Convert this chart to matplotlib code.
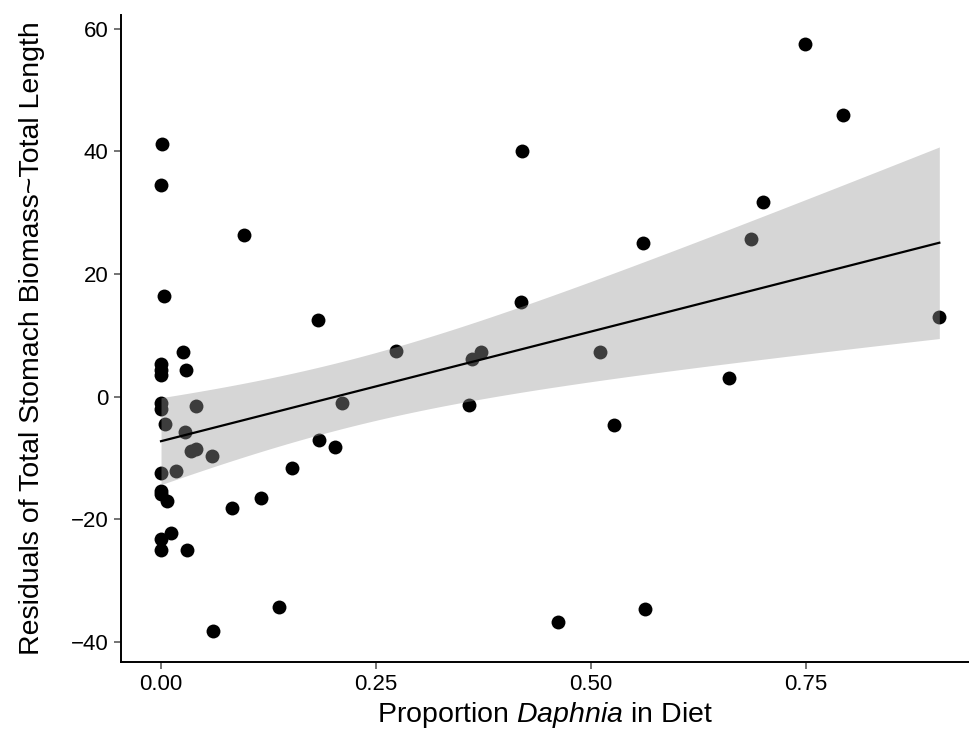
import numpy as np
import matplotlib
matplotlib.use("Agg")
import matplotlib.pyplot as plt

plt.rcParams["font.family"] = ["Liberation Sans", "DejaVu Sans"]
plt.rcParams["mathtext.fontset"] = "custom"
plt.rcParams["mathtext.rm"] = "Liberation Sans"
plt.rcParams["mathtext.it"] = "Liberation Sans:italic"

# proportion of Daphnia in diet and the residuals of stomach biomass ~ length
daphnia = [0.001, 0.0, 0.004, 0.0, 0.0, 0.0, 0.0, 0.0, 0.0, 0.0, 0.0, 0.0, 0.0,
           0.025, 0.029, 0.041, 0.005, 0.028, 0.035, 0.041, 0.059, 0.017, 0.007,
           0.012, 0.030, 0.061,
           0.082, 0.097, 0.116, 0.137, 0.152, 0.182, 0.184, 0.202, 0.210, 0.273,
           0.358, 0.362, 0.372, 0.418, 0.420,
           0.462, 0.510, 0.527, 0.560, 0.563, 0.661, 0.686, 0.700, 0.749, 0.793,
           0.905]
resid = [41.3, 34.5, 16.4, 5.3, 4.4, 3.5, -1.0, -2.1, -12.4, -15.4, -15.9, -23.2,
         -25.1,
         7.2, 4.4, -1.6, -4.4, -5.8, -8.8, -8.6, -9.7, -12.1, -17.1, -22.3, -25.1,
         -38.3,
         -18.2, 26.3, -16.6, -34.4, -11.6, 12.5, -7.1, -8.2, -1.0, 7.4, -1.4, 6.2,
         7.3, 15.4, 40.0,
         -36.7, 7.3, -4.6, 25.0, -34.6, 3.0, 25.7, 31.8, 57.5, 46.0, 13.0]

x = np.array(daphnia)
y = np.array(resid)

# ordinary least squares fit with a 95% confidence band
n = len(x)
slope, intercept = np.polyfit(x, y, 1)
fit = intercept + slope * x
s = np.sqrt(np.sum((y - fit) ** 2) / (n - 2))
t_crit = 2.0086  # t(0.975, df = 50)
xs = np.linspace(x.min(), x.max(), 100)
ys = intercept + slope * xs
se = s * np.sqrt(1 / n + (xs - x.mean()) ** 2 / np.sum((x - x.mean()) ** 2))

fig = plt.figure(figsize=(9.69, 7.49), dpi=100)
ax = fig.add_axes([0.1249, 0.1162, 0.8751, 0.864])

ax.scatter(x, y, s=100, color="black", linewidths=0, zorder=2)
ax.fill_between(xs, ys - t_crit * se, ys + t_crit * se, color="#999999",
                alpha=0.4, linewidth=0, zorder=3)
ax.plot(xs, ys, color="black", linewidth=1.6, zorder=4)

ax.set_xlim(-0.0465, 0.9395)
ax.set_ylim(-43.3, 62.3)
ax.set_xticks([0.0, 0.25, 0.5, 0.75])
ax.set_xticklabels(["0.00", "0.25", "0.50", "0.75"])
ax.set_yticks([-40, -20, 0, 20, 40, 60])
ax.set_yticklabels(["\u221240", "\u221220", "0", "20", "40", "60"])

for side in ["top", "right"]:
    ax.spines[side].set_visible(False)
for side in ["left", "bottom"]:
    ax.spines[side].set_linewidth(1.4)
ax.tick_params(axis="both", length=5, width=1.1, color="#4d4d4d",
               labelsize=16, labelcolor="black", pad=4)

ax.set_xlabel("Proportion $\\it{Daphnia}$ in Diet", fontsize=20.5)
ax.set_ylabel("Residuals of Total Stomach Biomass~Total Length", fontsize=20.5)
ax.xaxis.set_label_coords(0.5, -0.082)
ax.yaxis.set_label_coords(-0.105, 0.5)
ax.xaxis.label.set_va("center")
ax.yaxis.label.set_va("center")

fig.savefig("out.png", dpi=100)
